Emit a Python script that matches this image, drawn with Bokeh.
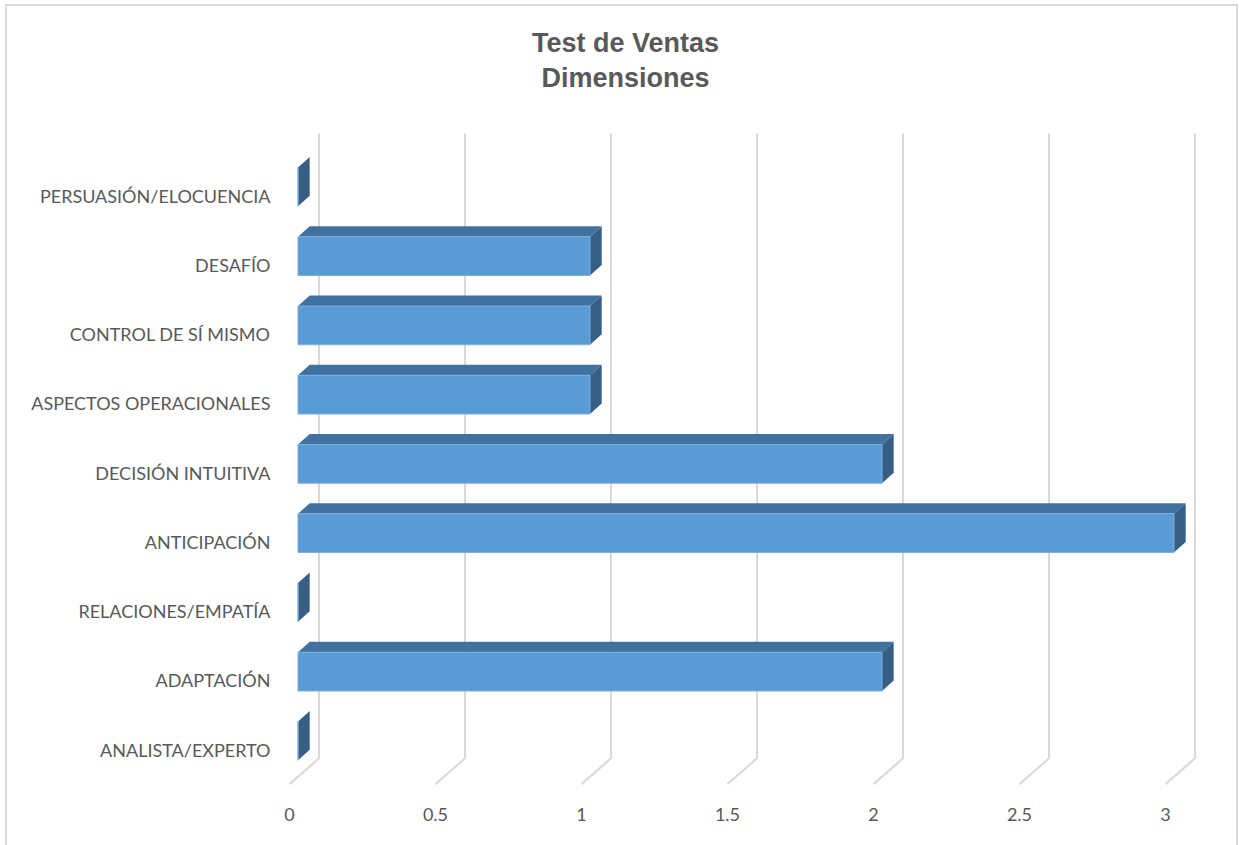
from bokeh.plotting import figure
from bokeh.models import FixedTicker, Range1d, InlineStyleSheet
from bokeh.core.properties import value
from bokeh.embed import file_html
from bokeh.resources import INLINE

# ---------------- data ----------------
categories = ["ANALISTA/EXPERTO", "ADAPTACIÓN", "RELACIONES/EMPATÍA", "ANTICIPACIÓN",
              "DECISIÓN INTUITIVA", "ASPECTOS OPERACIONALES", "CONTROL DE SÍ MISMO",
              "DESAFÍO", "PERSUASIÓN/ELOCUENCIA"]
values = [0, 2, 0, 3, 2, 1, 1, 1, 0]
x_ticks = [0, 0.5, 1, 1.5, 2, 2.5, 3]
title_lines = ["Test de Ventas", "Dimensiones"]

# ---------------- geometry (figure pixels) ----------------
W, H = 1239, 845
FL, FR, FT, FB = 280, 1220, 13, 790      # frame edges
X0 = 289                                  # x=0 on the front floor edge
PX_X = 292.0                              # px per unit of value
C0 = 749                                  # centre of first category
PX_C = 69.25                              # px per category

def dx(px):
    return px / PX_X

def dy(px):
    return px / PX_C

x_range = Range1d((FL - X0) / PX_X, (FR - X0) / PX_X)
y_range = Range1d(-(FB - C0) / PX_C, (C0 - FT) / PX_C)

border_css = InlineStyleSheet(css="""
:host { position: relative; }
:host::after {
  content: ""; position: absolute; left: 5px; top: 4px; right: 1px; bottom: 0px;
  border-left: 2px solid #D9D9D9; border-top: 2px solid #D9D9D9;
  border-right: 2px solid #D9D9D9; pointer-events: none; z-index: 100;
}
""")

p = figure(width=W, height=H, x_range=x_range, y_range=y_range,
           output_backend="svg", toolbar_location=None,
           min_border_left=FL, min_border_right=W - FR,
           min_border_top=FT, min_border_bottom=H - FB,
           stylesheets=[border_css])
p.outline_line_color = None
p.xgrid.visible = False
p.ygrid.visible = False
p.background_fill_color = "white"
p.border_fill_color = "white"

# depth parameters (pixels)
WALL_DX, WALL_DY = 29.5, 25.8
FRONT_DX, FRONT_DY = 8.5, 8.6
DEPTH_DX, DEPTH_DY = 11.7, 10.6
HALF_H = 19.35
GRID_TOP = (C0 - 133) / PX_C
floor_back_y = -0.5 + dy(WALL_DY)

grid_color = "#D9D9D9"
# back-wall gridlines
p.segment(x0=[v + dx(WALL_DX) for v in x_ticks], y0=[floor_back_y] * len(x_ticks),
          x1=[v + dx(WALL_DX) for v in x_ticks], y1=[GRID_TOP] * len(x_ticks),
          line_color=grid_color, line_width=2)
# floor lines
p.segment(x0=[v + dx(WALL_DX) for v in x_ticks], y0=[floor_back_y] * len(x_ticks),
          x1=list(x_ticks), y1=[-0.5] * len(x_ticks),
          line_color=grid_color, line_width=2)

# bars
front_xs, front_ys, top_xs, top_ys, side_xs, side_ys = [], [], [], [], [], []
for i, v in enumerate(values):
    fx0 = dx(FRONT_DX)
    fx1 = v + dx(FRONT_DX)
    yc = i + dy(FRONT_DY)
    yb = yc - dy(HALF_H)
    yt = yc + dy(HALF_H)
    ddx, ddy = dx(DEPTH_DX), dy(DEPTH_DY)
    front_xs.append([fx0, fx1, fx1, fx0])
    front_ys.append([yb, yb, yt, yt])
    top_xs.append([fx0, fx1, fx1 + ddx, fx0 + ddx])
    top_ys.append([yt, yt, yt + ddy, yt + ddy])
    side_xs.append([fx1, fx1, fx1 + ddx, fx1 + ddx])
    side_ys.append([yb, yt, yt + ddy, yb + ddy])

p.patches(top_xs, top_ys, fill_color="#41729F", line_color=None)
p.patches(side_xs, side_ys, fill_color="#375F86", line_color=None)
p.patches(front_xs, front_ys, fill_color="#5B9BD5", line_color="#7FAFDD", line_width=1)

# title
tx = (625 - X0) / PX_X
p.text(x=[tx, tx], y=[(C0 - 42.5) / PX_C, (C0 - 77.5) / PX_C], text=title_lines,
       text_font=value("Liberation Sans"), text_font_style="bold",
       text_font_size="27px", text_color="#595959",
       text_align="center", text_baseline="middle")

label_font = "Lato"
label_color = "#595959"

p.xaxis.ticker = FixedTicker(ticks=x_ticks)
p.xaxis.axis_line_color = None
p.xaxis.major_tick_line_color = None
p.xaxis.minor_tick_line_color = None
p.xaxis.major_tick_out = 0
p.xaxis.major_tick_in = 0
p.xaxis.minor_tick_out = 0
p.xaxis.major_label_text_font = label_font
p.xaxis.major_label_text_font_size = "18px"
p.xaxis.major_label_text_color = label_color
p.xaxis.major_label_standoff = 17

p.yaxis.ticker = FixedTicker(ticks=list(range(len(categories))))
p.yaxis.major_label_overrides = {i: c for i, c in enumerate(categories)}
p.yaxis.axis_line_color = None
p.yaxis.major_tick_line_color = None
p.yaxis.minor_tick_line_color = None
p.yaxis.major_tick_out = 0
p.yaxis.major_tick_in = 0
p.yaxis.minor_tick_out = 0
p.yaxis.major_label_text_font = label_font
p.yaxis.major_label_text_font_size = "18px"
p.yaxis.major_label_text_color = label_color
p.yaxis.major_label_standoff = 10

open("out.html", "w").write(file_html(p, INLINE))
